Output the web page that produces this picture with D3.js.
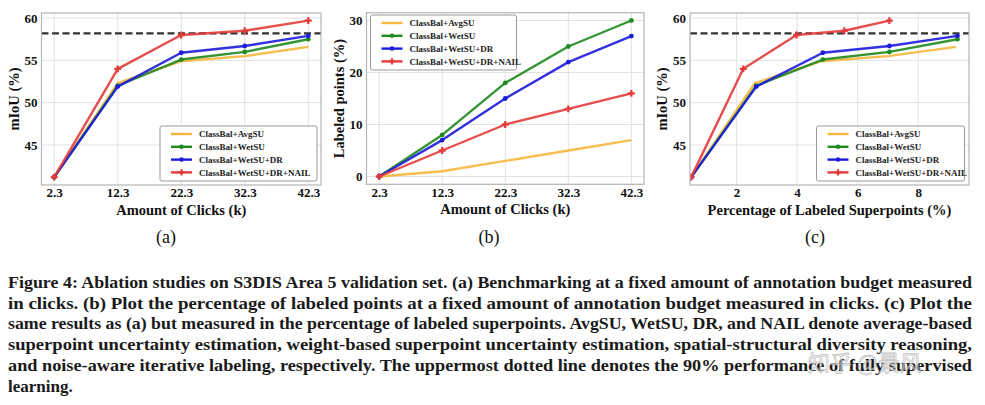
<!DOCTYPE html>
<html><head><meta charset="utf-8">
<script src="https://cdn.jsdelivr.net/npm/d3@7"></script>
<style>
body{margin:0;background:#fff;}
svg{display:block;}
</style></head>
<body>
<svg id="chart" width="985" height="405"></svg>
<script>
// ---------- DATA ----------
const seriesNames = ["ClassBal+AvgSU", "ClassBal+WetSU", "ClassBal+WetSU+DR", "ClassBal+WetSU+DR+NAIL"];
const seriesColors = ["#f6b73c", "#1f8a1f", "#1c1cdc", "#e43b3b"];
const clicks = [2.3, 12.3, 22.3, 32.3, 42.3];
const clickTicks = [2.3, 12.3, 22.3, 32.3, 42.3];

// (a) mIoU vs clicks
const miouAvgSU = [41.2, 52.3, 54.9, 55.5, 56.6];
const miouWetSU = [41.2, 52.0, 55.1, 56.0, 57.5];
const miouDR    = [41.2, 51.9, 55.9, 56.7, 57.9];
const miouNAIL  = [41.2, 54.0, 58.0, 58.5, 59.7];
const miouTicks = [45, 50, 55, 60];
const fullySup90 = 58.2;

// (b) labeled points vs clicks
const ptsAvgSU = [0, 1, 3, 5, 7];
const ptsWetSU = [0, 8, 18, 25, 30];
const ptsDR    = [0, 7, 15, 22, 27];
const ptsNAIL  = [0, 5, 10, 13, 16];
const ptsTicks = [0, 10, 20, 30];

// (c) mIoU vs percentage of labeled superpoints
const spAvgSU = [0.5, 2.6, 4.8, 7.0, 9.25];
const spWetSU = [0.5, 2.65, 4.85, 7.05, 9.3];
const spDR    = [0.5, 2.65, 4.85, 7.05, 9.3];
const spNAIL  = [0.5, 2.22, 3.98, 5.56, 7.05];
const spTicks = [2, 4, 6, 8];

const subLabels = ["(a)", "(b)", "(c)"];
const captionLines = [
 "Figure 4: Ablation studies on S3DIS Area 5 validation set. (a) Benchmarking at a fixed amount of annotation budget measured",
 "in clicks. (b) Plot the percentage of labeled points at a fixed amount of annotation budget measured in clicks. (c) Plot the",
 "same results as (a) but measured in the percentage of labeled superpoints. AvgSU, WetSU, DR, and NAIL denote average-based",
 "superpoint uncertainty estimation, weight-based superpoint uncertainty estimation, spatial-structural diversity reasoning,",
 "and noise-aware iterative labeling, respectively. The uppermost dotted line denotes the 90% performance of fully supervised",
 "learning."
];
const watermark = "知乎 @景风";

// ---------- DRAW ----------
const svg = d3.select("#chart");
const serif = "'Liberation Serif','Times New Roman',serif";

function panel(cfg) {
  const g = svg.append("g");
  const x = d3.scaleLinear().domain(cfg.xDomain).range([cfg.left, cfg.right]);
  const y = d3.scaleLinear().domain(cfg.yDomain).range([cfg.bottom, cfg.top]);

  // grid
  g.selectAll(".gx").data(cfg.xTicks).join("line")
    .attr("x1", d => x(d)).attr("x2", d => x(d))
    .attr("y1", cfg.top).attr("y2", cfg.bottom)
    .attr("stroke", "#e2e2e2").attr("stroke-width", 1);
  g.selectAll(".gy").data(cfg.yTicks).join("line")
    .attr("y1", d => y(d)).attr("y2", d => y(d))
    .attr("x1", cfg.left).attr("x2", cfg.right)
    .attr("stroke", "#e2e2e2").attr("stroke-width", 1);

  // axes via d3
  const xAxis = d3.axisBottom(x).tickValues(cfg.xTicks).tickSize(0).tickPadding(3)
    .tickFormat(d => d);
  const yAxis = d3.axisLeft(y).tickValues(cfg.yTicks).tickSize(0).tickPadding(4)
    .tickFormat(d => d);
  const gx = g.append("g").attr("transform", `translate(0,${cfg.bottom})`).call(xAxis);
  const gy = g.append("g").attr("transform", `translate(${cfg.left},0)`).call(yAxis);
  [gx, gy].forEach(a => {
    a.select(".domain").remove();
    a.selectAll("text").attr("font-family", serif).attr("font-weight", "bold")
      .attr("font-size", "13px").attr("fill", "#111");
  });

  // dashed reference
  if (cfg.ref !== undefined) {
    g.append("line").attr("x1", cfg.left).attr("x2", cfg.right)
      .attr("y1", y(cfg.ref)).attr("y2", y(cfg.ref))
      .attr("stroke", "#333").attr("stroke-width", 2.2).attr("stroke-dasharray", "7,3.5");
  }

  // clip
  const clipId = "clip" + cfg.id;
  g.append("clipPath").attr("id", clipId).append("rect")
    .attr("x", cfg.left).attr("y", cfg.top)
    .attr("width", cfg.right - cfg.left).attr("height", cfg.bottom - cfg.top);
  const plot = g.append("g").attr("clip-path", `url(#${clipId})`);

  const line = d3.line().x(d => x(d[0])).y(d => y(d[1]));
  cfg.series.forEach((s, i) => {
    const pts = s.xs.map((xv, k) => [xv, s.ys[k]]);
    plot.append("path").datum(pts).attr("d", line)
      .attr("fill", "none").attr("stroke", seriesColors[i])
      .attr("stroke-width", 2.4).attr("stroke-opacity", 0.9)
      .attr("stroke-linejoin", "round");
    if (i > 0) {
      const sym = i === 3 ? d3.symbolCross : d3.symbolCircle;
      plot.selectAll(null).data(pts).join("path")
        .attr("d", d3.symbol().type(sym).size(i === 3 ? 26 : 18))
        .attr("transform", d => `translate(${x(d[0])},${y(d[1])})`)
        .attr("fill", seriesColors[i]);
    }
  });

  // frame
  g.append("rect").attr("x", cfg.left).attr("y", cfg.top)
    .attr("width", cfg.right - cfg.left).attr("height", cfg.bottom - cfg.top)
    .attr("fill", "none").attr("stroke", "#b5b5b5").attr("stroke-width", 1.2);

  // axis titles
  g.append("text").attr("x", (cfg.left + cfg.right) / 2).attr("y", cfg.bottom + 29.5)
    .attr("text-anchor", "middle").attr("font-family", serif).attr("font-weight", "bold")
    .attr("font-size", "14.5px").attr("fill", "#111").text(cfg.xLabel);
  g.append("text")
    .attr("transform", `translate(${cfg.yLabelX},${(cfg.top + cfg.bottom) / 2}) rotate(-90)`)
    .attr("text-anchor", "middle").attr("font-family", serif).attr("font-weight", "bold")
    .attr("font-size", "14.5px").attr("fill", "#111").text(cfg.yLabel);

  // legend
  const L = cfg.legend;
  const lg = g.append("g");
  lg.append("rect").attr("x", L.x).attr("y", L.y).attr("width", L.w).attr("height", L.h)
    .attr("rx", 2).attr("fill", "#fff").attr("fill-opacity", 0.9)
    .attr("stroke", "#999").attr("stroke-width", 1);
  seriesNames.forEach((n, i) => {
    const yy = L.y + 8 + i * 12.8;
    lg.append("line").attr("x1", L.x + 11).attr("x2", L.x + 32).attr("y1", yy).attr("y2", yy)
      .attr("stroke", seriesColors[i]).attr("stroke-width", 2.4);
    if (i > 0) {
      lg.append("path").attr("d", d3.symbol().type(i === 3 ? d3.symbolCross : d3.symbolCircle).size(i === 3 ? 22 : 16))
        .attr("transform", `translate(${L.x + 21.5},${yy})`).attr("fill", seriesColors[i]);
    }
    lg.append("text").attr("x", L.x + 39).attr("y", yy + 3.2)
      .attr("font-family", serif).attr("font-weight", "bold").attr("font-size", "9px")
      .attr("fill", "#222").text(n);
  });

  // sub label
  svg.append("text").attr("x", cfg.subX).attr("y", 243).attr("text-anchor", "middle")
    .attr("font-family", serif).attr("font-size", "18px").attr("fill", "#111").text(cfg.sub);
}

panel({
  id: "a", left: 41.5, right: 321, top: 13, bottom: 185,
  xDomain: [0.3, 44.3], yDomain: [40.27, 60.6],
  xTicks: clickTicks, yTicks: miouTicks, ref: fullySup90,
  series: [
    {xs: clicks, ys: miouAvgSU}, {xs: clicks, ys: miouWetSU},
    {xs: clicks, ys: miouDR}, {xs: clicks, ys: miouNAIL}],
  xLabel: "Amount of Clicks (k)", yLabel: "mIoU (%)", yLabelX: 19,
  legend: {x: 160, y: 126, w: 157, h: 55},
  sub: subLabels[0], subX: 166
});
panel({
  id: "b", left: 366.5, right: 644, top: 12.7, bottom: 184.3,
  xDomain: [0.3, 44.3], yDomain: [-1.5, 31.5],
  xTicks: clickTicks, yTicks: ptsTicks,
  series: [
    {xs: clicks, ys: ptsAvgSU}, {xs: clicks, ys: ptsWetSU},
    {xs: clicks, ys: ptsDR}, {xs: clicks, ys: ptsNAIL}],
  xLabel: "Amount of Clicks (k)", yLabel: "Labeled points (%)", yLabelX: 344,
  legend: {x: 370.5, y: 15, w: 146, h: 55},
  sub: subLabels[1], subX: 489
});
panel({
  id: "c", left: 690, right: 969, top: 13, bottom: 185,
  xDomain: [0.46, 9.68], yDomain: [40.27, 60.6],
  xTicks: spTicks, yTicks: miouTicks, ref: fullySup90,
  series: [
    {xs: spAvgSU, ys: miouAvgSU}, {xs: spWetSU, ys: miouWetSU},
    {xs: spDR, ys: miouDR}, {xs: spNAIL, ys: miouNAIL}],
  xLabel: "Percentage of Labeled Superpoints (%)", yLabel: "mIoU (%)", yLabelX: 667,
  legend: {x: 816.5, y: 126, w: 148, h: 55},
  sub: subLabels[2], subX: 815
});

// caption
const cap = svg.append("g");
captionLines.forEach((t, i) => {
  const tx = cap.append("text").attr("x", 8).attr("y", 288 + i * 20.7)
    .attr("font-family", serif).attr("font-weight", "bold").attr("font-size", "17px")
    .attr("fill", "#1a1a1a").text(t);
  if (i < captionLines.length - 1) tx.attr("textLength", 964).attr("lengthAdjust", "spacingAndGlyphs");
});

// watermark
svg.append("text").attr("x", 808).attr("y", 371)
  .attr("font-family", "'Noto Sans CJK SC',sans-serif").attr("font-size", "22px")
  .attr("fill", "#ffffff").attr("fill-opacity", 0.55)
  .attr("stroke", "#9a9a9a").attr("stroke-opacity", 0.6).attr("stroke-width", 0.8)
  .text(watermark);
</script>
</body></html>
